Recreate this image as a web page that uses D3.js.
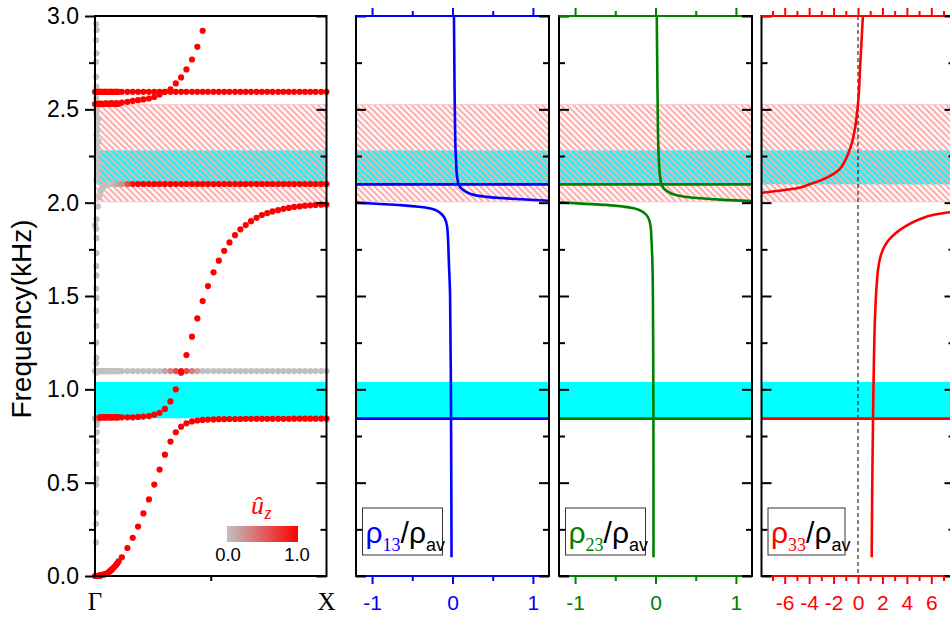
<!DOCTYPE html>
<html><head><meta charset="utf-8">
<script src="https://cdn.jsdelivr.net/npm/d3@7"></script>
<style>body{margin:0;background:#fff}svg{display:block}</style>
</head><body>
<svg id="c" width="950" height="617"></svg>
<script>
// ---------------- DATA ----------------
const freqMajor = [0, 0.5, 1.0, 1.5, 2.0, 2.5, 3.0];
const freqMinor = [0.25, 0.75, 1.25, 1.75, 2.25, 2.75];
const kLabels = ["Γ", "X"];
const rhoMajor = [-1, 0, 1];
const rhoMinor = [-0.5, 0.5];
const rho33Major = [-6, -4, -2, 0, 2, 4, 6];
const rho33Minor = [-7, -5, -3, -1, 1, 3, 5, 7];

// band limits (kHz)
const cyanBand = [0.845, 1.04];
const cyanHatchBand = [2.098, 2.28];
const pinkHatchBand = [2.005, 2.525];
// flat resonance lines in the density panels (kHz)
const resLow = 0.843;
const resHigh = 2.098;

// reduced wavenumber grid (Γ -> X)
const kGrid = [0.000,0.023,0.047,0.070,0.093,0.116,0.140,0.163,0.186,0.209,
  0.233,0.256,0.279,0.302,0.326,0.349,0.372,0.395,0.419,0.442,
  0.465,0.488,0.512,0.535,0.558,0.581,0.605,0.628,0.651,0.674,
  0.698,0.721,0.744,0.767,0.791,0.814,0.837,0.860,0.884,0.907,
  0.930,0.953,0.977,1.000];
const kFine = [0.006,0.012,0.018,0.024,0.030,0.036,0.042,0.048,0.054,0.060,
  0.066,0.072,0.078,0.084,0.090,0.096,0.102];

// branch A (acoustic)
const bandA = [0.000,0.003,0.012,0.032,0.064,0.100,0.150,0.205,0.265,0.335,
  0.410,0.490,0.570,0.650,0.720,0.770,0.800,0.818,0.828,0.833,
  0.836,0.838,0.839,0.840,0.840,0.841,0.841,0.841,0.842,0.842,
  0.842,0.842,0.842,0.842,0.842,0.842,0.842,0.843,0.843,0.843,
  0.843,0.843,0.843,0.843];
const bandAFine = [0.000,0.001,0.002,0.003,0.005,0.007,0.009,0.012,0.016,0.021,
  0.027,0.034,0.041,0.049,0.057,0.067,0.078];
// branch B (0.85 -> 1.99)
const bandB = [0.846,0.850,0.850,0.850,0.850,0.850,0.850,0.850,0.852,0.854,
  0.857,0.864,0.874,0.895,0.935,1.000,1.089,1.184,1.282,1.380,
  1.473,1.553,1.627,1.689,1.742,1.787,1.826,1.857,1.880,1.901,
  1.919,1.934,1.944,1.953,1.960,1.967,1.972,1.977,1.980,1.984,
  1.986,1.988,1.989,1.990];
const bandBUz = [0,1,1,1,1,1,1,1,1,1, 1,1,1,1,1,1,1,1,1,1, 1,1,1,1,1,1,1,1,1,1,
  1,1,1,1,1,1,1,1,1,1, 1,1,1,1];
const bandBFine = [0.835,0.845,0.848,0.849,0.850,0.850,0.850,0.850,0.850,0.850,
  0.850,0.850,0.850,0.850,0.850,0.850,0.850];
const bandBFineUz = [0.1,0.4,0.7,0.9,1,1,1,1,1,1,1,1,1,1,1,1,1];
// branch G (flat 1.1, in-plane)
const bandG = [1.098,1.098,1.098,1.098,1.098,1.098,1.098,1.098,1.098,1.098,
  1.098,1.098,1.098,1.098,1.098,1.098,1.098,1.098,1.098,1.098,
  1.098,1.098,1.098,1.098,1.098,1.098,1.098,1.098,1.098,1.098,
  1.098,1.098,1.098,1.098,1.098,1.098,1.098,1.098,1.098,1.098,
  1.098,1.098,1.098,1.098];
const bandGUz = [0,0,0,0,0,0,0,0,0,0, 0,0,0,0.15,0.35,0.6,0.9,0.6,0.35,0.15,
  0,0,0,0,0,0,0,0,0,0, 0,0,0,0,0,0,0,0,0,0, 0,0,0,0];
const bandGFine = [1.090,1.096,1.098,1.098,1.098,1.098,1.098,1.098,1.098,1.098,
  1.098,1.098,1.098,1.098,1.098,1.098,1.098];
// branch C (flat 2.1)
const bandC = [1.880,2.062,2.095,2.100,2.100,2.100,2.100,2.100,2.100,2.100,
  2.100,2.100,2.100,2.100,2.100,2.100,2.100,2.100,2.100,2.100,
  2.100,2.100,2.100,2.100,2.100,2.100,2.100,2.100,2.100,2.100,
  2.100,2.100,2.100,2.100,2.100,2.100,2.100,2.100,2.100,2.100,
  2.100,2.100,2.100,2.100];
const bandCUz = [0,0,0,0,0,0.25,0.6,0.9,1,1, 1,1,1,1,1,1,1,1,1,1, 1,1,1,1,1,1,1,1,1,1,
  1,1,1,1,1,1,1,1,1,1, 1,1,1,1];
const bandCFine = [1.910,1.980,2.030,2.060,2.075,2.085,2.091,2.095,2.098,2.100,
  2.100,2.100,2.100,2.100,2.100,2.100,2.100];
const bandCFineUz = [0,0,0,0,0,0,0,0,0,0,0,0,0,0,0.05,0.1,0.15];
// branch D1 (flat 2.594)
const bandD1 = [2.594,2.594,2.594,2.594,2.594,2.594,2.594,2.594,2.594,2.594,
  2.594,2.594,2.594,2.594,2.594,2.594,2.594,2.594,2.594,2.594,
  2.594,2.594,2.594,2.594,2.594,2.594,2.594,2.594,2.594,2.594,
  2.594,2.594,2.594,2.594,2.594,2.594,2.594,2.594,2.594,2.594,
  2.594,2.594,2.594,2.594];
const bandD1Fine = [2.594,2.594,2.594,2.594,2.594,2.594,2.594,2.594,2.594,2.594,
  2.594,2.594,2.594,2.594,2.594,2.594,2.594];
// branch D2 (2.53 rising, leaves the window above 3 kHz)
const bandD2 = [2.528,2.531,2.532,2.533,2.534,2.536,2.540,2.545,2.549,2.553,
  2.558,2.566,2.580,2.594,2.607,2.639,2.671,2.714,2.767,2.835,
  2.921,null,null,null,null,null,null,null,null,null,
  null,null,null,null,null,null,null,null,null,null,
  null,null,null,null];
const bandD2Fine = [2.530,2.530,2.530,2.530,2.530,2.530,2.530,2.530,2.530,2.530,
  2.530,2.530,2.530,2.530,2.530,2.530,2.530];
// steep in-plane branch close to Γ (grey)
const steepK = [0.004,0.004,0.005,0.005,0.006,0.006,0.007,0.007,0.008,0.008,0.010,0.013,
  0.005,0.006,0.005,0.006,0.005,0.007,0.005,0.006,0.005,0.007,0.006,0.005,
  0.006,0.012,0.008,0.014,0.005,0.011,0.009,0.015,0.006,0.012,0.008,0.013,0.005,0.010,
  0.005,0.006,0.005,0.004,0.006,0.005,0.007,0.005];
const steepF = [0.18,0.28,0.34,0.49,0.52,0.60,0.67,0.72,0.77,0.81,0.83,0.84,
  1.14,1.17,1.25,1.34,1.42,1.49,1.54,1.61,1.66,1.73,1.81,1.86,
  2.12,2.15,2.18,2.21,2.24,2.27,2.30,2.33,2.36,2.39,2.42,2.45,2.48,2.51,
  2.56,2.62,2.674,2.755,2.80,2.87,2.925,2.957];

// density ratios (value vs frequency)
const rho13LowerF = [0.10,0.50,1.00,1.50,1.69,1.80,1.87,1.92,1.944,1.960,1.969,1.978,1.987,1.994,2.000];
const rho13LowerV = [-0.012,-0.015,-0.02,-0.03,-0.046,-0.055,-0.066,-0.10,-0.15,-0.21,-0.275,-0.42,-0.65,-0.95,-1.20];
const rho13UpperF = [2.010,2.018,2.025,2.035,2.048,2.060,2.080,2.100,2.130,2.170,2.220,2.280,2.400,2.600,2.800,3.000];
const rho13UpperV = [1.20,0.85,0.60,0.35,0.22,0.16,0.10,0.075,0.06,0.05,0.045,0.038,0.032,0.026,0.022,0.018];
const rho23LowerF = [0.10,0.50,1.00,1.50,1.70,1.80,1.87,1.92,1.945,1.960,1.970,1.979,1.988,1.995,2.002];
const rho23LowerV = [-0.025,-0.025,-0.027,-0.032,-0.04,-0.05,-0.06,-0.09,-0.14,-0.20,-0.27,-0.40,-0.62,-0.92,-1.20];
const rho23UpperF = [2.008,2.015,2.022,2.032,2.045,2.058,2.078,2.100,2.130,2.170,2.220,2.280,2.400,2.600,2.800,3.000];
const rho23UpperV = [1.20,0.85,0.60,0.36,0.22,0.16,0.10,0.075,0.06,0.05,0.043,0.037,0.030,0.025,0.020,0.016];
const rho33LowerF = [0.10,0.50,0.84,1.14,1.40,1.55,1.65,1.72,1.77,1.81,1.85,1.88,1.91,1.935,1.946,1.952];
const rho33LowerV = [1.12,1.17,1.23,1.30,1.40,1.52,1.66,1.88,2.20,2.65,3.35,4.05,5.00,6.20,7.20,7.90];
const rho33UpperF = [2.053,2.077,2.100,2.125,2.150,2.180,2.220,2.260,2.320,2.390,2.530,2.760,3.000];
const rho33UpperV = [-7.9,-5.0,-3.9,-2.86,-2.1,-1.5,-1.1,-0.82,-0.5,-0.27,0.0,0.2,0.4];

// ---------------- DRAWING ----------------
const SANS = "'Liberation Sans', Arial, sans-serif";
const SERIF = "'Liberation Serif', 'Times New Roman', serif";
const svg = d3.select("#c");
const TOP = 16, BOT = 576;
const fy = d3.scaleLinear().domain([0, 3]).range([BOT, TOP]);
const P1 = {x0: 95, x1: 326.5};
const kx = d3.scaleLinear().domain([0, 1]).range([P1.x0, P1.x1]);
const uzColor = d3.interpolateRgb("#c0c0c0", "#ff0000");

const defs = svg.append("defs");
const pat = defs.append("pattern").attr("id", "hatch").attr("patternUnits", "userSpaceOnUse")
  .attr("width", 4.4).attr("height", 4.4).attr("patternTransform", "rotate(-45)");
pat.append("line").attr("x1", 1.1).attr("y1", 0).attr("x2", 1.1).attr("y2", 4.4)
  .attr("stroke", "#ffaaaa").attr("stroke-width", 2.1);
const grad = defs.append("linearGradient").attr("id", "uzgrad");
grad.append("stop").attr("offset", "0%").attr("stop-color", "#c0c0c0");
grad.append("stop").attr("offset", "100%").attr("stop-color", "#ff0000");

function drawBands(x0, x1) {
  const g = svg.append("g");
  g.append("rect").attr("x", x0).attr("width", x1 - x0)
    .attr("y", fy(cyanBand[1])).attr("height", fy(cyanBand[0]) - fy(cyanBand[1])).attr("fill", "#00ffff");
  g.append("rect").attr("x", x0).attr("width", x1 - x0)
    .attr("y", fy(cyanHatchBand[1])).attr("height", fy(cyanHatchBand[0]) - fy(cyanHatchBand[1])).attr("fill", "#00ffff");
  g.append("rect").attr("x", x0).attr("width", x1 - x0)
    .attr("y", fy(pinkHatchBand[1])).attr("height", fy(pinkHatchBand[0]) - fy(pinkHatchBand[1]))
    .attr("fill", "url(#hatch)").attr("stroke", "#ffc4c4").attr("stroke-width", 1);
}

function styleAxis(sel, color, width) {
  sel.select(".domain").remove();
  sel.selectAll(".tick line").attr("stroke", color).attr("stroke-width", width);
  sel.selectAll(".tick text").attr("fill", color).attr("font-family", SANS);
}
function yTicksInward(x, side) {
  const mk = side === "left" ? d3.axisRight : d3.axisLeft;
  svg.append("g").attr("transform", `translate(${x},0)`)
    .call(mk(fy).tickValues(freqMajor).tickSize(10).tickFormat("")).call(s => styleAxis(s, "#000", 2));
  svg.append("g").attr("transform", `translate(${x},0)`)
    .call(mk(fy).tickValues(freqMinor).tickSize(6).tickFormat("")).call(s => styleAxis(s, "#000", 2));
}

// ---- Panel 1: dispersion ----
drawBands(P1.x0, P1.x1);
const pts = [];
function addBranch(fArr, uz, fineArr, fineUz) {
  fArr.forEach((f, i) => { if (f !== null) pts.push({k: kGrid[i], f, uz: Array.isArray(uz) ? uz[i] : uz}); });
  if (fineArr) fineArr.forEach((f, i) => pts.push({k: kFine[i], f, uz: Array.isArray(fineUz) ? fineUz[i] : fineUz}));
}
addBranch(bandA, 1, bandAFine, 1);
addBranch(bandB, bandBUz, bandBFine, bandBFineUz);
addBranch(bandG, bandGUz, bandGFine, 0);
addBranch(bandC, bandCUz, bandCFine, bandCFineUz);
addBranch(bandD1, 1, bandD1Fine, 1);
addBranch(bandD2, 1, bandD2Fine, 1);
steepK.forEach((k, i) => pts.push({k, f: steepF[i], uz: 0}));
pts.sort((a, b) => a.uz - b.uz);
svg.append("g").selectAll("circle").data(pts).join("circle")
  .attr("cx", d => kx(d.k)).attr("cy", d => fy(d.f)).attr("r", 3.1)
  .attr("fill", d => uzColor(d.uz));

svg.append("rect").attr("x", P1.x0).attr("y", TOP).attr("width", P1.x1 - P1.x0).attr("height", BOT - TOP)
  .attr("fill", "none").attr("stroke", "#000").attr("stroke-width", 2);
const yl = svg.append("g").attr("transform", `translate(${P1.x0},0)`)
  .call(d3.axisLeft(fy).tickValues(freqMajor).tickSize(10).tickPadding(6).tickFormat(d3.format(".1f")))
  .call(s => styleAxis(s, "#000", 2));
yl.selectAll(".tick text").attr("font-size", 23);
svg.append("g").attr("transform", `translate(${P1.x0},0)`)
  .call(d3.axisLeft(fy).tickValues(freqMinor).tickSize(6).tickFormat("")).call(s => styleAxis(s, "#000", 2));
yTicksInward(P1.x1, "right");
svg.append("g").attr("transform", `translate(0,${BOT})`)
  .call(d3.axisBottom(kx).tickValues([0.5]).tickSize(5).tickFormat("")).call(s => styleAxis(s, "#000", 2));
svg.append("g").selectAll("text").data(kLabels).join("text")
  .attr("x", (d, i) => kx(i)).attr("y", 610).attr("text-anchor", "middle")
  .attr("font-family", SERIF).attr("font-size", 25).text(d => d);
svg.append("text").attr("transform", "translate(31,319) rotate(-90)").attr("text-anchor", "middle")
  .attr("font-family", SANS).attr("font-size", 28).text("Frequency(kHz)");

// colour legend
const lg = svg.append("g");
lg.append("rect").attr("x", 227).attr("y", 526).attr("width", 71).attr("height", 16).attr("fill", "url(#uzgrad)");
lg.append("text").attr("x", 228).attr("y", 561).attr("text-anchor", "middle").attr("font-family", SANS)
  .attr("font-size", 18.5).text("0.0");
lg.append("text").attr("x", 297).attr("y", 561).attr("text-anchor", "middle").attr("font-family", SANS)
  .attr("font-size", 18.5).text("1.0");
lg.append("text").attr("x", 251).attr("y", 514).attr("font-family", SERIF).attr("font-style", "italic")
  .attr("font-size", 26).attr("fill", "#ff0000").text("û");
lg.append("text").attr("x", 264.5).attr("y", 519).attr("font-family", SERIF).attr("font-style", "italic")
  .attr("font-size", 18).attr("fill", "#ff0000").text("z");

// ---- Panels 2-4: density ratios ----
const panels = [
  {x0: 356, x1: 549, dom: [-1.2, 1.2], color: "#0000ff", sub: "13", major: rhoMajor, minor: rhoMinor,
   lower: [rho13LowerF, rho13LowerV], upper: [rho13UpperF, rho13UpperV], lines: [resLow, resHigh], dashed: false, boxW: 80},
  {x0: 559, x1: 752, dom: [-1.2, 1.2], color: "#008000", sub: "23", major: rhoMajor, minor: rhoMinor,
   lower: [rho23LowerF, rho23LowerV], upper: [rho23UpperF, rho23UpperV], lines: [resLow, resHigh], dashed: false, boxW: 80},
  {x0: 761.5, x1: 954.5, dom: [-7.9, 7.9], color: "#ff0000", sub: "33", major: rho33Major, minor: rho33Minor,
   lower: [rho33LowerF, rho33LowerV], upper: [rho33UpperF, rho33UpperV], lines: [resLow], dashed: true, boxW: 77}
];

panels.forEach(p => {
  const xs = d3.scaleLinear().domain(p.dom).range([p.x0, p.x1]);
  drawBands(p.x0, p.x1);
  const clipId = "clip" + p.sub;
  defs.append("clipPath").attr("id", clipId).append("rect")
    .attr("x", p.x0).attr("y", TOP).attr("width", p.x1 - p.x0).attr("height", BOT - TOP);
  const g = svg.append("g").attr("clip-path", `url(#${clipId})`);
  if (p.dashed) {
    g.append("line").attr("x1", xs(0)).attr("x2", xs(0)).attr("y1", TOP).attr("y2", BOT)
      .attr("stroke", "#000").attr("stroke-width", 1).attr("stroke-dasharray", "4,3");
  }
  p.lines.forEach(f => g.append("line").attr("x1", p.x0).attr("x2", p.x1).attr("y1", fy(f)).attr("y2", fy(f))
    .attr("stroke", p.color).attr("stroke-width", 2.6));
  const line = d3.line().x(d => xs(d[1])).y(d => fy(d[0])).curve(d3.curveMonotoneY);
  [p.lower, p.upper].forEach(([F, V]) => {
    g.append("path").datum(F.map((f, i) => [f, V[i]])).attr("d", line)
      .attr("fill", "none").attr("stroke", p.color).attr("stroke-width", 2.6);
  });
  // frame
  svg.append("rect").attr("x", p.x0).attr("y", TOP).attr("width", p.x1 - p.x0).attr("height", BOT - TOP)
    .attr("fill", "none").attr("stroke", "#000").attr("stroke-width", 2);
  yTicksInward(p.x0, "left");
  yTicksInward(p.x1, "right");
  // coloured top/bottom axes
  svg.append("line").attr("x1", p.x0).attr("x2", p.x1 - 10).attr("y1", TOP).attr("y2", TOP)
    .attr("stroke", p.color).attr("stroke-width", 2);
  svg.append("line").attr("x1", p.x0 + 10).attr("x2", p.x1 - 10).attr("y1", BOT).attr("y2", BOT)
    .attr("stroke", p.color).attr("stroke-width", 2);
  svg.append("g").attr("transform", `translate(0,${TOP})`)
    .call(d3.axisTop(xs).tickValues(p.major).tickSize(8).tickFormat("")).call(s => styleAxis(s, p.color, 2));
  svg.append("g").attr("transform", `translate(0,${TOP})`)
    .call(d3.axisTop(xs).tickValues(p.minor).tickSize(5).tickFormat("")).call(s => styleAxis(s, p.color, 2));
  const bx = svg.append("g").attr("transform", `translate(0,${BOT})`)
    .call(d3.axisBottom(xs).tickValues(p.major).tickSize(8).tickPadding(11).tickFormat(d => String(d)))
    .call(s => styleAxis(s, p.color, 2));
  bx.selectAll(".tick text").attr("font-size", 21);
  svg.append("g").attr("transform", `translate(0,${BOT})`)
    .call(d3.axisBottom(xs).tickValues(p.minor).tickSize(5).tickFormat("")).call(s => styleAxis(s, p.color, 2));
  // label box
  const bx0 = p.x0 + 6.5;
  svg.append("rect").attr("x", bx0).attr("y", 508).attr("width", p.boxW).attr("height", 47)
    .attr("fill", "#fff").attr("stroke", "#333").attr("stroke-width", 1);
  const t = svg.append("text").attr("x", bx0 + 3).attr("y", 543).attr("font-family", SANS);
  t.append("tspan").attr("font-size", 30).attr("fill", p.color).text("ρ");
  t.append("tspan").attr("font-size", 18).attr("font-family", SERIF).attr("fill", p.color).attr("dy", 8).text(p.sub);
  t.append("tspan").attr("font-size", 30).attr("fill", "#000").attr("dy", -8).text("/ρ");
  t.append("tspan").attr("font-size", 18).attr("fill", "#000").attr("dy", 8).text("av");
});
</script>
</body></html>
